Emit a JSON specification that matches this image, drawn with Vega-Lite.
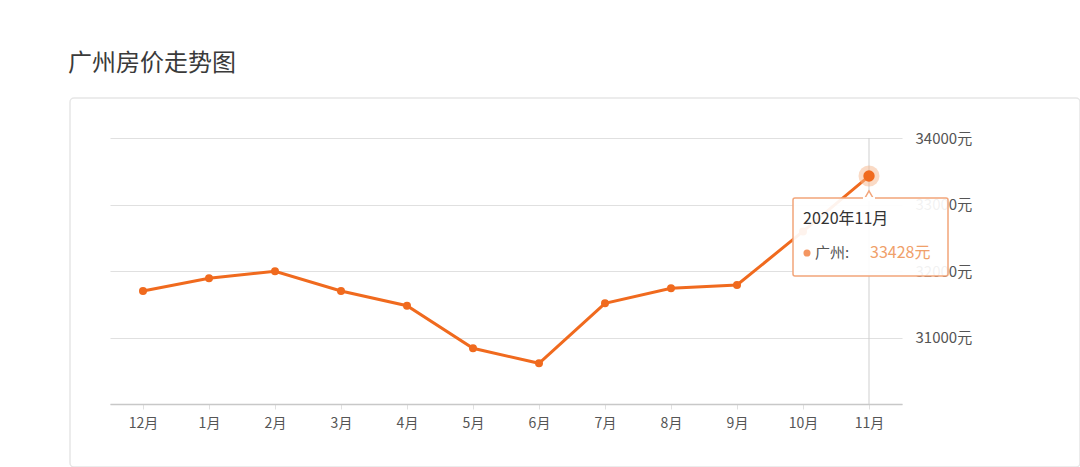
{
  "$schema": "https://vega.github.io/schema/vega-lite/v6.json",
  "autosize": "none",
  "padding": {"left": 70, "top": 98, "right": 0, "bottom": 0},
  "width": 1010,
  "height": 369,
  "background": "white",
  "title": {
    "text": "广州房价走势图",
    "anchor": "start",
    "frame": "group",
    "fontSize": 24,
    "fontWeight": "normal",
    "color": "#3a3a3a",
    "font": "Noto Sans CJK SC",
    "dx": -2,
    "offset": 22
  },
  "datasets": {
    "price": [
      {"month": "12月", "value": 31699},
      {"month": "1月", "value": 31890},
      {"month": "2月", "value": 31995},
      {"month": "3月", "value": 31699},
      {"month": "4月", "value": 31478},
      {"month": "5月", "value": 30838},
      {"month": "6月", "value": 30612},
      {"month": "7月", "value": 31514},
      {"month": "8月", "value": 31740},
      {"month": "9月", "value": 31789},
      {"month": "10月", "value": 32595},
      {"month": "11月", "value": 33428}
    ],
    "hover": [
      {"month": "11月", "value": 33428, "low": 30000, "high": 34000, "date": "2020年11月", "city": "广州:", "label": "33428元"}
    ]
  },
  "encoding": {
    "x": {
      "field": "month",
      "type": "ordinal",
      "scale": {
        "type": "point",
        "padding": 0.5,
        "range": [40, 832],
        "domain": ["12月", "1月", "2月", "3月", "4月", "5月", "6月", "7月", "8月", "9月", "10月", "11月"]
      },
      "axis": {
        "title": null,
        "offset": -63,
        "labelAngle": 0,
        "labelFontSize": 14,
        "labelColor": "#555555",
        "labelPadding": 7,
        "tickSize": 5,
        "tickColor": "#e0e0e0",
        "domainColor": "#c8c8c8",
        "domainWidth": 1.5,
        "grid": false
      }
    },
    "y": {
      "field": "value",
      "type": "quantitative",
      "scale": {"domain": [30000, 34000], "range": [306, 40], "zero": false},
      "axis": {
        "title": null,
        "orient": "left",
        "values": [30000, 31000, 32000, 33000, 34000],
        "labelExpr": "datum.value == 30000 ? '' : datum.value + '元'",
        "labelFontSize": 15,
        "labelColor": "#555555",
        "labelAlign": "left",
        "labelPadding": -845,
        "ticks": false,
        "tickSize": 0,
        "domain": false,
        "grid": true,
        "gridColor": "#e0e0e0",
        "gridWidth": 1.2
      }
    }
  },
  "layer": [
    {
      "data": {"name": "hover"},
      "mark": {"type": "rule", "color": "#cfcfcf", "strokeWidth": 1},
      "encoding": {
        "y": {"field": "low", "type": "quantitative"},
        "y2": {"field": "high"}
      }
    },
    {
      "data": {"name": "price"},
      "mark": {"type": "line", "color": "#f06a1e", "strokeWidth": 3}
    },
    {
      "data": {"name": "price"},
      "mark": {"type": "circle", "color": "#f06a1e", "opacity": 1, "size": 64}
    },
    {
      "data": {"name": "hover"},
      "mark": {"type": "circle", "color": "#f6b58c", "opacity": 0.5, "size": 440}
    },
    {
      "data": {"name": "hover"},
      "mark": {"type": "circle", "color": "#f06a1e", "opacity": 1, "size": 130}
    },
    {
      "data": {"name": "hover"},
      "mark": {
        "type": "rect",
        "fill": "white",
        "fillOpacity": 0.92,
        "stroke": "#f2a57a",
        "strokeWidth": 1.5,
        "cornerRadius": 2,
        "xOffset": -76,
        "x2Offset": 79,
        "yOffset": 22,
        "y2Offset": 100
      },
      "encoding": {
        "x2": {"field": "month"},
        "y2": {"field": "value"}
      }
    },
    {
      "data": {"name": "hover"},
      "mark": {
        "type": "point",
        "shape": "triangle-up",
        "filled": true,
        "fill": "white",
        "stroke": "#f2a57a",
        "strokeWidth": 1.5,
        "size": 90,
        "yOffset": 19,
        "opacity": 1
      }
    },
    {
      "data": {"name": "hover"},
      "mark": {
        "type": "rect",
        "fill": "white",
        "xOffset": -6,
        "x2Offset": 6,
        "yOffset": 21,
        "y2Offset": 25
      },
      "encoding": {
        "x2": {"field": "month"},
        "y2": {"field": "value"}
      }
    },
    {
      "data": {"name": "hover"},
      "mark": {
        "type": "text",
        "align": "left",
        "baseline": "middle",
        "dx": -66,
        "dy": 43,
        "fontSize": 16,
        "color": "#333333",
        "font": "Noto Sans CJK SC"
      },
      "encoding": {"text": {"field": "date"}}
    },
    {
      "data": {"name": "hover"},
      "mark": {"type": "circle", "color": "#f06a1e", "size": 50, "xOffset": -62, "yOffset": 77}
    },
    {
      "data": {"name": "hover"},
      "mark": {
        "type": "text",
        "align": "left",
        "baseline": "middle",
        "dx": -54,
        "dy": 77,
        "fontSize": 15,
        "color": "#555555",
        "font": "Noto Sans CJK SC"
      },
      "encoding": {"text": {"field": "city"}}
    },
    {
      "data": {"name": "hover"},
      "mark": {
        "type": "text",
        "align": "left",
        "baseline": "middle",
        "dx": 1,
        "dy": 77,
        "fontSize": 16,
        "color": "#f0a06a",
        "font": "Noto Sans CJK SC"
      },
      "encoding": {"text": {"field": "label"}}
    }
  ],
  "config": {
    "font": "Noto Sans CJK SC",
    "axis": {"labelFont": "Noto Sans CJK SC"},
    "view": {"stroke": "#e6e6e6", "strokeWidth": 1.5, "cornerRadius": 4}
  }
}
